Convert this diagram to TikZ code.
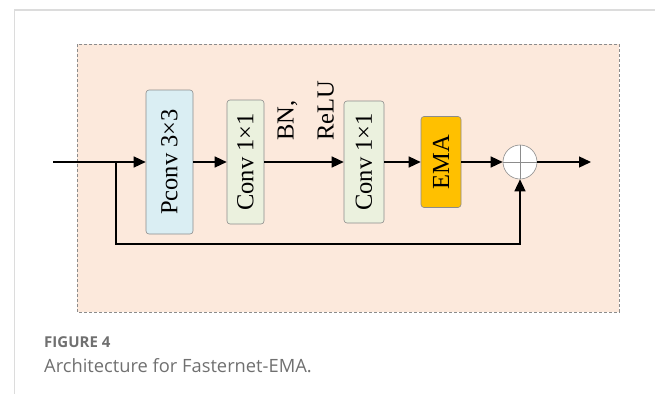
\documentclass[tikz,border=0pt]{standalone}
\usepackage{fontspec}
\setmainfont{Liberation Serif}
\newfontfamily\captionfont{Open Sans}
\usetikzlibrary{calc,positioning,arrows.meta}

\definecolor{framegray}{HTML}{DCDCDC}
\definecolor{edgegray}{HTML}{8C8C8C}
\definecolor{blockbg}{HTML}{FCE9DC}
\definecolor{pconvblue}{HTML}{DAEEF3}
\definecolor{convgreen}{HTML}{EBF1DE}
\definecolor{emagold}{HTML}{FFC000}
\definecolor{capgray}{HTML}{707070}

\tikzset{
  layer/.style={draw=edgegray, line width=0.6pt, rounded corners=3pt,
    rotate=90, inner sep=0pt, font=\fontsize{24.5}{29}\selectfont},
  flow/.style={line width=1.4pt, -{Triangle[length=12pt,width=11pt]}},
  wire/.style={line width=1.4pt}
}

\begin{document}
\begin{tikzpicture}[x=1pt,y=-1pt]
  \useasboundingbox (0,0) rectangle (655,394);

  % page frame
  \draw[framegray, line width=2pt] (14,10) -- (655,10);
  \draw[framegray, line width=1pt] (14,10) -- (14,394);

  % block background
  \draw[edgegray, fill=blockbg, line width=0.7pt, dash pattern=on 3pt off 2pt]
    (77,44) rectangle (619,312);

  \node (pconv) [layer, fill=pconvblue, minimum width=144pt, minimum height=47pt] at (169.5,162) {Pconv 3×3};
  \node (conva) [layer, fill=convgreen, minimum width=124pt, minimum height=37pt] at (245.5,162) {Conv 1×1};
  \node (convb) [layer, fill=convgreen, minimum width=122pt, minimum height=40pt] at (364,162) {Conv 1×1};
  \node (ema) [layer, fill=emagold, minimum width=91pt, minimum height=40pt] at (441,162) {EMA};

  \node (bnrelu) [rotate=90, anchor=south west, inner sep=0pt, align=left,
    font=\fontsize{24.5}{40}\selectfont] at (334,141) {BN,\\ReLU};

  \node (sum) [circle, draw=edgegray, fill=white, line width=0.6pt, minimum size=34pt, inner sep=0pt] at (520,162) {};
  \draw[edgegray, line width=0.6pt] (sum.north) -- (sum.south) (sum.west) -- (sum.east);

  \coordinate (in) at (53,162);
  \coordinate (split) at (116,162);
  \coordinate (skip) at (116,244);
  \coordinate (out) at (591,162);

  \draw[wire] (in) -- (split);
  \draw[flow] (split) -- (pconv);
  \draw[flow] (pconv) -- (conva);
  \draw[flow] (conva) -- (convb);
  \draw[flow] (convb) -- (ema);
  \draw[flow] (ema) -- (sum);
  \draw[flow] (sum) -- (out);
  \draw[flow] (split) -- (skip) -| (sum);

  % caption
  \node (figlabel) [anchor=base west, inner sep=0pt, text=capgray,
    font=\captionfont\bfseries\fontsize{15}{18}\selectfont] at (44,347) {FIGURE 4};
  \node (figtitle) [anchor=base west, inner sep=0pt, text=capgray,
    font=\captionfont\fontsize{18.3}{22}\selectfont] at (44,372) {Architecture for Fasternet-EMA.};
\end{tikzpicture}
\end{document}
